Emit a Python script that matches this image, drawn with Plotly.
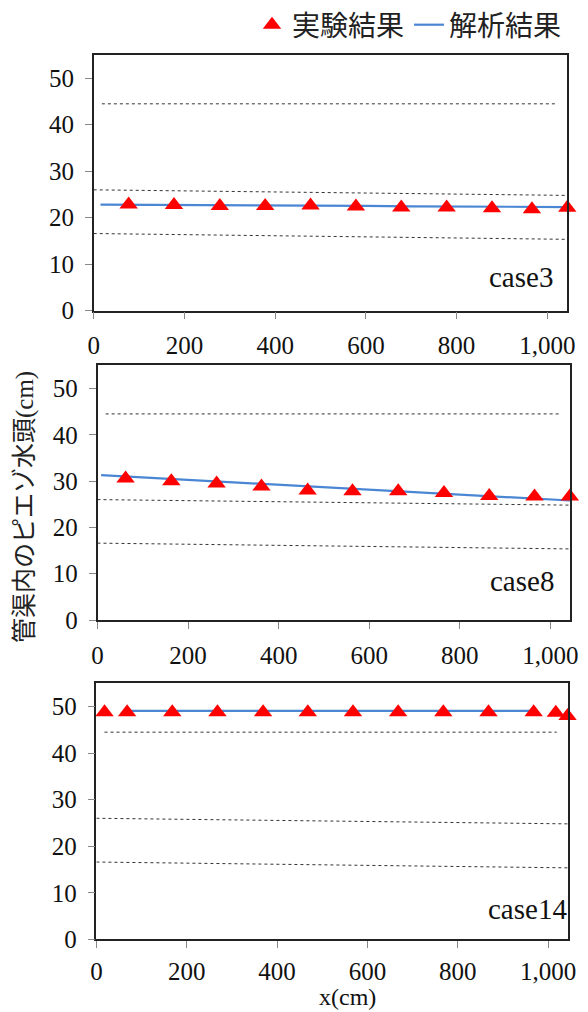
import plotly.graph_objects as go

W, H = 588, 1012

# ---------------- data ----------------
# case3
c3_exp_x = [77, 177, 278, 378, 478, 578, 678, 778, 878, 966, 1044]
c3_exp_y = [22.87, 22.72, 22.5, 22.5, 22.61, 22.4, 22.18, 22.18, 22.05, 21.84, 22.12]
c3_ana_x = [15, 100, 200, 300, 400, 500, 600, 700, 800, 900, 1000, 1044]
c3_ana_y = [22.8, 22.78, 22.75, 22.7, 22.62, 22.58, 22.55, 22.45, 22.42, 22.38, 22.32, 22.3]

# case8
c8_exp_x = [62, 163, 263, 362, 464, 563, 664, 765, 865, 965, 1043]
c8_exp_y = [30.55, 29.96, 29.49, 28.81, 27.95, 27.8, 27.8, 27.4, 26.78, 26.67, 26.67]
c8_ana_x = [8, 100, 200, 300, 400, 500, 600, 700, 800, 900, 1000, 1043]
c8_ana_y = [31.27, 30.78, 30.25, 29.72, 29.19, 28.66, 28.13, 27.6, 27.07, 26.54, 26.0, 25.8]

# case14
c14_exp_x = [18, 68, 168, 268, 369, 468, 568, 668, 768, 868, 968, 1017, 1043]
c14_exp_y = [48.8, 48.8, 48.8, 48.8, 48.8, 48.8, 48.8, 48.8, 48.8, 48.8, 48.8, 48.65, 48.0]
c14_ana_x = [64, 969]
c14_ana_y = [49.08, 49.08]

# reference dotted lines (same in every panel)
ref_top_x = [18, 1019]
ref_top_y = [44.5, 44.5]
ref_mid_x = [0, 1044]
ref_mid_y = [26.0, 24.8]
ref_low_x = [0, 1044]
ref_low_y = [16.6, 15.35]

case_labels = ["case3", "case8", "case14"]
x_ticks = [0, 200, 400, 600, 800, 1000]
x_ticktext = ["0", "200", "400", "600", "800", "1,000"]
y_ticks = [0, 10, 20, 30, 40, 50]

legend_exp = "実験結果"
legend_ana = "解析結果"
y_title = "管渠内のピエゾ水頭(cm)"
x_title = "x(cm)"

# ---------------- styling ----------------
SERIF = "Liberation Serif, Noto Sans CJK JP, serif"
CJK = "Noto Sans CJK JP, sans-serif"
RED = "#ff0000"
BLUE = "#4a86d4"
DOT = "#333333"

# panel pixel boxes: (left, right, top, bottom)
boxes = [
    (93.7, 567.3, 55.0, 310.7),
    (97.5, 570.3, 365.3, 620.0),
    (96.4, 568.0, 683.3, 939.3),
]
x_label_standoff = [5, 5, 2]

panels = [
    (c3_exp_x, c3_exp_y, c3_ana_x, c3_ana_y),
    (c8_exp_x, c8_exp_y, c8_ana_x, c8_ana_y),
    (c14_exp_x, c14_exp_y, c14_ana_x, c14_ana_y),
]

fig = go.Figure()

for i, (ex, ey, ax_, ay) in enumerate(panels):
    xa = "x" if i == 0 else f"x{i+1}"
    ya = "y" if i == 0 else f"y{i+1}"
    for rx, ry in [(ref_top_x, ref_top_y), (ref_mid_x, ref_mid_y), (ref_low_x, ref_low_y)]:
        fig.add_trace(go.Scatter(x=rx, y=ry, mode="lines", xaxis=xa, yaxis=ya,
                                 line=dict(color=DOT, width=1, dash="dot"),
                                 showlegend=False, hoverinfo="skip"))
    fig.add_trace(go.Scatter(x=ax_, y=ay, mode="lines", xaxis=xa, yaxis=ya,
                             line=dict(color=BLUE, width=2.2),
                             name=legend_ana, showlegend=(i == 0), legendrank=2,
                             legendgroup="ana"))
    fig.add_trace(go.Scatter(x=ex, y=ey, mode="markers", xaxis=xa, yaxis=ya,
                             marker=dict(symbol="triangle-up", size=16, color=RED,
                                         line=dict(width=0)),
                             cliponaxis=False,
                             name=legend_exp, showlegend=(i == 0), legendrank=1,
                             legendgroup="exp"))

layout = dict(
    template="none",
    width=W, height=H,
    margin=dict(l=0, r=0, t=0, b=0, autoexpand=False),
    paper_bgcolor="white", plot_bgcolor="white",
    font=dict(family=SERIF, size=24, color="#111"),
    showlegend=True,
    legend=dict(orientation="h", x=567 / W, xanchor="right", y=1.0, yanchor="top",
                font=dict(family=CJK, size=28, color="#222"),
                itemwidth=30, bgcolor="rgba(0,0,0,0)", traceorder="normal",
                tracegroupgap=4, borderwidth=0),
)

annotations = []
for i, (l, r, t, b) in enumerate(boxes):
    xk = "xaxis" if i == 0 else f"xaxis{i+1}"
    yk = "yaxis" if i == 0 else f"yaxis{i+1}"
    ya = "y" if i == 0 else f"y{i+1}"
    xa = "x" if i == 0 else f"x{i+1}"
    layout[xk] = dict(
        domain=[l / W, r / W], anchor=ya, range=[0, 1044], automargin=False,
        tickvals=x_ticks, ticktext=x_ticktext,
        ticks="outside", ticklen=7, tickcolor="#888", tickwidth=1,
        ticklabelstandoff=x_label_standoff[i],
        showline=True, linecolor="#222", linewidth=1.5, mirror=True,
        showgrid=False, zeroline=False,
        tickfont=dict(family=SERIF, size=25, color="#111"),
    )
    layout[yk] = dict(
        domain=[1 - b / H, 1 - t / H], anchor=xa, range=[0, 55], automargin=False,
        tickvals=y_ticks,
        ticks="outside", ticklen=7, tickcolor="#888", tickwidth=1,
        ticklabelstandoff=6,
        showline=True, linecolor="#222", linewidth=1.5, mirror=True,
        showgrid=False, zeroline=False,
        tickfont=dict(family=SERIF, size=25, color="#111"),
    )

case_pos = [(555, 277), (556, 581), (569, 909)]
for (px, py), txt in zip(case_pos, case_labels):
    annotations.append(dict(text=txt, x=px / W, y=1 - py / H, xref="paper", yref="paper",
                            xanchor="right", yanchor="middle", showarrow=False,
                            font=dict(family=SERIF, size=29, color="#111")))

annotations.append(dict(text=y_title, x=25 / W, y=1 - 507 / H, xref="paper", yref="paper",
                        xanchor="center", yanchor="middle", textangle=-90, showarrow=False,
                        font=dict(family=SERIF, size=25, color="#222")))
annotations.append(dict(text=x_title, x=347 / W, y=0, xref="paper", yref="paper",
                        xanchor="center", yanchor="bottom", showarrow=False,
                        font=dict(family=SERIF, size=24, color="#111")))
layout["annotations"] = annotations

fig.update_layout(**layout)
fig.write_html(
    "out.html",
    config={"displayModeBar": False},
    post_script="document.body.style.margin='0';document.body.style.padding='0';"
                "document.body.style.overflow='hidden';",
)
